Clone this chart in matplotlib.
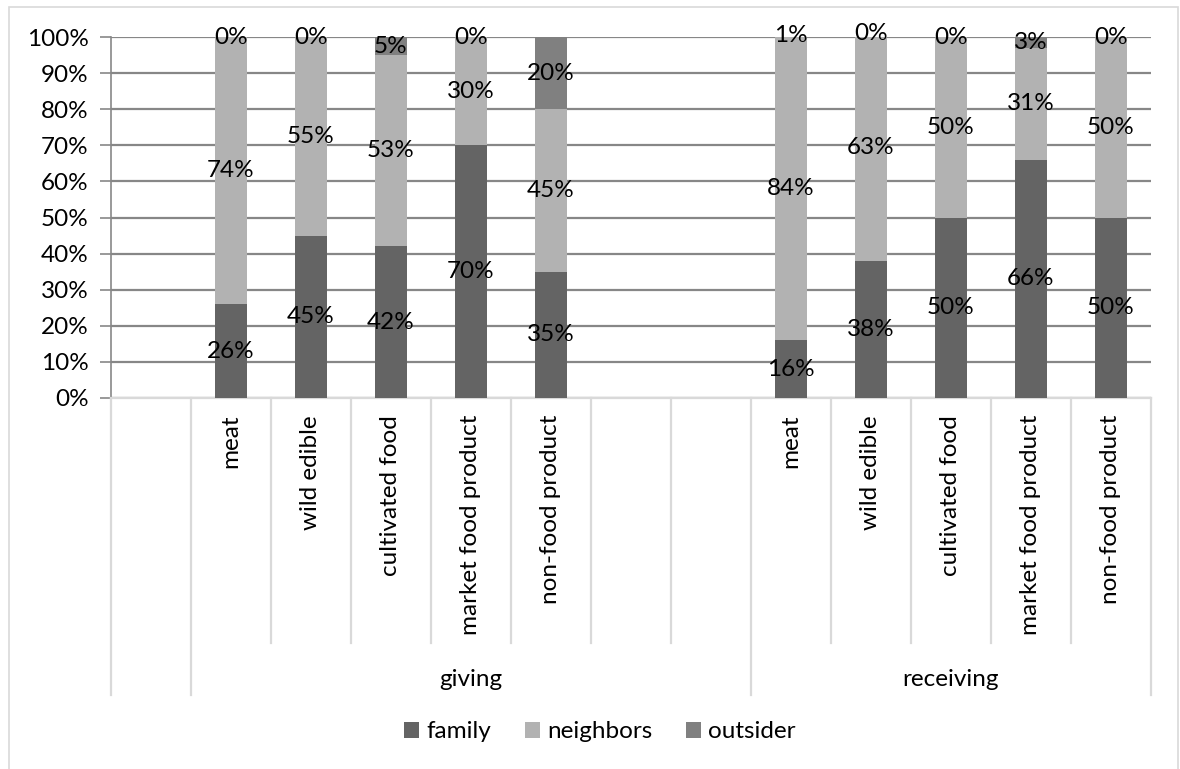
import matplotlib
matplotlib.use("Agg")
import matplotlib.pyplot as plt
import matplotlib.transforms as mtransforms
from matplotlib.patches import Rectangle, Patch
import numpy as np

plt.rcParams['font.family'] = ['Lato', 'DejaVu Sans']
FS = 17.5

# 100% stacked shares per category, giving then receiving
categories = ["meat", "wild edible", "cultivated food", "market food product", "non-food product"]
groups = ["giving", "receiving"]
series = ["family", "neighbors", "outsider"]

giving_family = [26, 45, 42, 70, 35]
giving_neighbors = [74, 55, 53, 30, 45]
giving_outsider = [0, 0, 5, 0, 20]

receiving_family = [16, 38, 50, 66, 50]
receiving_neighbors = [84, 63, 50, 31, 50]
receiving_outsider = [1, 0, 0, 3, 0]

colors = ["#646464", "#b2b2b2", "#808080"]

# slot layout on the category axis (13 slots, some empty)
giving_slots = [1, 2, 3, 4, 5]
receiving_slots = [8, 9, 10, 11, 12]

W, H = 1180, 769
fig = plt.figure(figsize=(W / 100, H / 100), dpi=100)

# chart border
fig.patches.append(Rectangle((9 / W, -0.05), (1178 - 9) / W, 1.05 - 7 / H, transform=fig.transFigure,
                             fill=False, edgecolor="#d9d9d9", linewidth=1.2))

left, right, top, bottom = 110.7, 1150.7, 37, 398
ax = fig.add_axes([left / W, 1 - bottom / H, (right - left) / W, (bottom - top) / H])

x = np.array(giving_slots + receiving_slots) + 0.5
fam = np.array(giving_family + receiving_family)
nei = np.array(giving_neighbors + receiving_neighbors)
out = np.array(giving_outsider + receiving_outsider)

base = np.zeros(len(x))
for vals, col in zip([fam, nei, out], colors):
    ax.bar(x, vals, bottom=base, width=0.4, color=col, zorder=3)
    for xi, b, v in zip(x, base, vals):
        ax.text(xi, b + v / 2, f"{v}%", ha="center", va="center", fontsize=FS, color="black",
                zorder=5, clip_on=False)
    base = base + vals

ax.set_xlim(0, 13)
ax.set_ylim(0, 100)
ax.set_yticks(np.arange(0, 101, 10))
ax.set_yticklabels([f"{t}%" for t in range(0, 101, 10)], fontsize=FS)
ax.yaxis.grid(True, color="#878787", linewidth=1.6, zorder=0)
ax.set_axisbelow(True)
ax.tick_params(axis="y", length=8, width=1.2, color="#878787", pad=8)
ax.set_xticks([])
for s in ["top", "right"]:
    ax.spines[s].set_visible(False)
ax.spines["left"].set_color("#878787")
ax.spines["left"].set_linewidth(1.2)
ax.spines["bottom"].set_color("#d9d9d9")
ax.spines["bottom"].set_linewidth(1.6)

# category separators below the axis
trans = mtransforms.blended_transform_factory(ax.transData, ax.transAxes)
h = bottom - top
short_end = -(643 - bottom) / h
long_end = -(695 - bottom) / h
for s in range(14):
    end = long_end if s in (0, 1, 8, 13) else short_end
    ax.plot([s, s], [0, end], transform=trans, color="#d9d9d9", linewidth=1.6, clip_on=False)

# rotated category labels
label_y = -(415 - bottom) / h
for xi, name in zip(x, categories + categories):
    ax.text(xi, label_y, name, transform=trans, rotation=90, ha="center", va="top", fontsize=FS)

# group labels
group_y = -(680 - bottom) / h
ax.text(4.5, group_y, groups[0], transform=trans, ha="center", va="center", fontsize=FS)
ax.text(10.5, group_y, groups[1], transform=trans, ha="center", va="center", fontsize=FS)

handles = [Patch(facecolor=c, edgecolor="none", label=n) for c, n in zip(colors, series)]
fig.legend(handles=handles, loc="center", bbox_to_anchor=(600 / W, 1 - 732 / H), ncol=3,
           frameon=False, fontsize=FS, handlelength=0.6, handleheight=0.6,
           handletextpad=0.3, columnspacing=1.4)

fig.savefig("out.png", dpi=100)
